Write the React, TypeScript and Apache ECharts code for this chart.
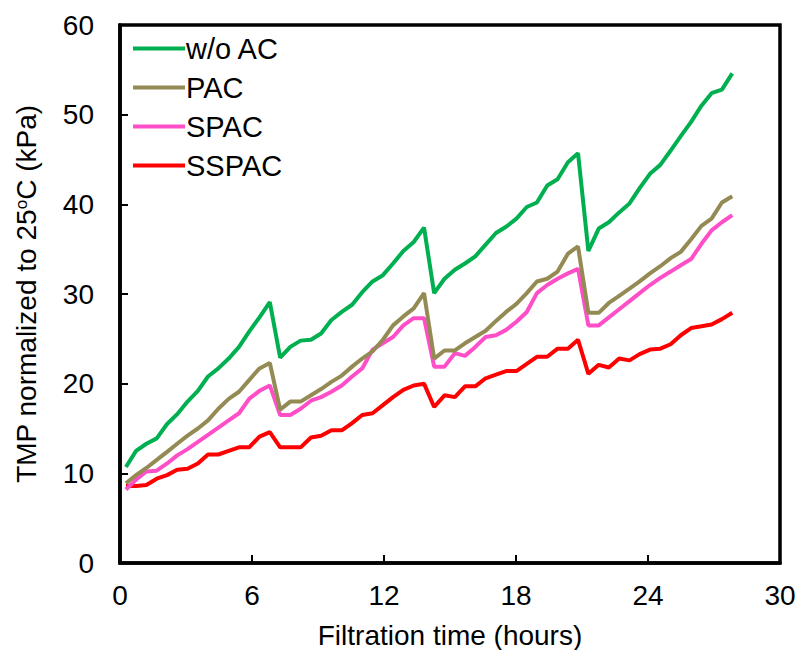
import React, { useEffect, useRef } from "react";
import * as echarts from "echarts";

const hours = [0.27, 0.73, 1.2, 1.67, 2.14, 2.6, 3.07, 3.54, 4.0, 4.47, 4.94, 5.41, 5.87, 6.34, 6.81, 7.28, 7.74, 8.21, 8.68, 9.14, 9.61, 10.08, 10.55, 11.01, 11.48, 11.95, 12.41, 12.88, 13.35, 13.82, 14.28, 14.75, 15.22, 15.68, 16.15, 16.62, 17.09, 17.55, 18.02, 18.49, 18.95, 19.42, 19.89, 20.36, 20.82, 21.29, 21.76, 22.22, 22.69, 23.16, 23.62, 24.09, 24.56, 25.03, 25.49, 25.96, 26.43, 26.89, 27.36, 27.83];

const woAC = [10.7, 12.5, 13.3, 13.9, 15.5, 16.6, 18.0, 19.2, 20.8, 21.7, 22.8, 24.1, 25.8, 27.4, 29.1, 22.9, 24.1, 24.8, 24.9, 25.6, 27.1, 28.0, 28.8, 30.2, 31.4, 32.1, 33.4, 34.8, 35.8, 37.4, 30.1, 31.7, 32.7, 33.4, 34.2, 35.5, 36.8, 37.5, 38.4, 39.7, 40.2, 42.1, 42.8, 44.7, 45.7, 34.8, 37.3, 38.0, 39.1, 40.1, 41.8, 43.4, 44.4, 46.0, 47.6, 49.2, 51.0, 52.4, 52.8, 54.6];

const pac = [8.9, 9.8, 10.6, 11.5, 12.4, 13.3, 14.2, 15.0, 15.9, 17.2, 18.3, 19.1, 20.4, 21.7, 22.3, 17.1, 18.0, 18.0, 18.7, 19.4, 20.2, 20.9, 21.9, 22.8, 23.6, 24.9, 26.5, 27.5, 28.4, 30.1, 22.8, 23.7, 23.7, 24.5, 25.2, 25.9, 27.0, 28.0, 28.9, 30.1, 31.4, 31.7, 32.5, 34.5, 35.3, 27.9, 27.9, 29.0, 29.8, 30.6, 31.4, 32.3, 33.1, 34.0, 34.7, 36.1, 37.6, 38.4, 40.2, 40.9];

const spac = [8.2, 9.3, 10.2, 10.3, 11.1, 12.0, 12.7, 13.5, 14.3, 15.1, 15.9, 16.7, 18.3, 19.2, 19.8, 16.5, 16.5, 17.2, 18.1, 18.5, 19.1, 19.8, 20.8, 21.7, 23.8, 24.5, 25.2, 26.5, 27.3, 27.3, 21.9, 21.9, 23.4, 23.1, 24.1, 25.2, 25.4, 26.0, 26.9, 28.0, 30.1, 31.0, 31.7, 32.3, 32.8, 26.5, 26.5, 27.4, 28.3, 29.2, 30.1, 31.0, 31.8, 32.5, 33.2, 33.9, 35.6, 37.1, 38.0, 38.8];

const sspac = [8.6, 8.6, 8.7, 9.4, 9.8, 10.4, 10.5, 11.1, 12.1, 12.1, 12.5, 12.9, 12.9, 14.1, 14.6, 12.9, 12.9, 12.9, 14.0, 14.2, 14.8, 14.8, 15.6, 16.5, 16.7, 17.6, 18.5, 19.3, 19.8, 20.0, 17.4, 18.7, 18.5, 19.7, 19.7, 20.6, 21.0, 21.4, 21.4, 22.2, 23.0, 23.0, 23.9, 23.9, 24.9, 21.1, 22.1, 21.8, 22.8, 22.6, 23.3, 23.8, 23.9, 24.4, 25.4, 26.2, 26.4, 26.6, 27.2, 27.9];

const seriesNames = ["w/o AC", "PAC", "SPAC", "SSPAC"];
const seriesColors = ["#00B050", "#948A54", "#FF4FC8", "#FF0000"];
const seriesValues = [woAC, pac, spac, sspac];

const FONT = "Liberation Sans, Arial, sans-serif";

export default function App() {
  const ref = useRef<HTMLDivElement>(null);
  useEffect(() => {
    if (!ref.current) return;
    const chart = echarts.init(ref.current, null, { renderer: "svg" });
    chart.setOption({
      animation: false,
      backgroundColor: "#ffffff",
      grid: {
        left: 120,
        top: 25,
        right: 18,
        bottom: 87,
        containLabel: false,
        outerBoundsMode: "none",
        show: true,
        borderColor: "#000",
        borderWidth: 3.5,
        backgroundColor: "transparent",
      },
      legend: {
        show: true,
        orient: "vertical",
        left: 128,
        top: 29,
        itemWidth: 52,
        itemHeight: 4,
        itemGap: 10,
        icon: "rect",
        textStyle: { fontFamily: FONT, fontSize: 29, color: "#000", padding: [0, 0, 0, -4] },
        data: seriesNames,
      },
      xAxis: {
        type: "value",
        min: 0,
        max: 30,
        interval: 6,
        name: "Filtration time (hours)",
        nameLocation: "middle",
        nameGap: 58,
        nameTextStyle: { fontFamily: FONT, fontSize: 28, color: "#000" },
        axisLine: { show: true, lineStyle: { color: "#000", width: 3.5 } },
        axisTick: { show: true, inside: true, length: 8, lineStyle: { color: "#000", width: 2 } },
        axisLabel: { fontFamily: FONT, fontSize: 28, color: "#000", margin: 18 },
        splitLine: { show: false },
      },
      yAxis: {
        type: "value",
        min: 0,
        max: 60,
        interval: 10,
        name: "TMP normalized to 25{sup|o}C (kPa)",
        nameLocation: "middle",
        nameGap: 80,
        nameRotate: 90,
        nameTextStyle: {
          fontFamily: FONT,
          fontSize: 28,
          color: "#000",
          rich: {
            sup: { fontFamily: FONT, fontSize: 17, color: "#000", padding: [0, 0, 10, 0] },
          },
        },
        axisLine: { show: true, lineStyle: { color: "#000", width: 3.5 } },
        axisTick: { show: true, inside: true, length: 8, lineStyle: { color: "#000", width: 2 } },
        axisLabel: { fontFamily: FONT, fontSize: 28, color: "#000", margin: 26 },
        splitLine: { show: false },
      },
      series: seriesNames.map((name, k) => ({
        name,
        type: "line",
        data: hours.map((h, i) => [h, seriesValues[k][i]]),
        showSymbol: false,
        symbol: "none",
        lineStyle: { color: seriesColors[k], width: 4 },
        itemStyle: { color: seriesColors[k] },
        z: 10 - k,
      })),
    });
    return () => chart.dispose();
  }, []);
  return (
    <div
      ref={ref}
      style={{ position: "fixed", left: 0, top: 0, width: 798, height: 650, background: "#fff" }}
    />
  );
}
